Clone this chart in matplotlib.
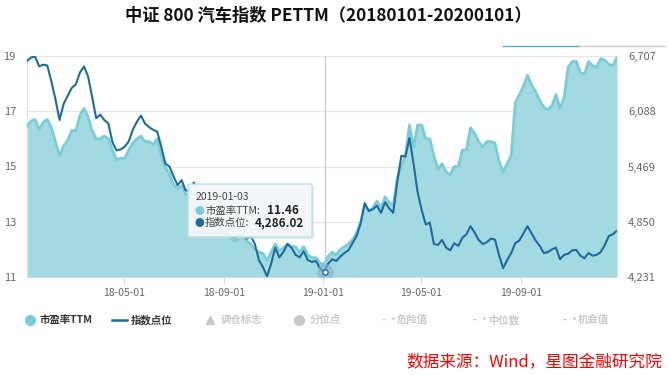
import numpy as np
import pandas as pd
import matplotlib
matplotlib.use('Agg')
import matplotlib.pyplot as plt
import matplotlib.dates as mdates
from matplotlib.lines import Line2D
from matplotlib.patches import FancyBboxPatch, Rectangle
from matplotlib.ticker import FuncFormatter

plt.rcParams['font.family'] = ['Noto Sans CJK SC', 'DejaVu Sans']

# data (every 5 calendar days from 2018-01-02)
start_date = '2018-01-02'
pe_ttm = [16.45, 16.65, 16.7, 16.35, 16.6, 16.7, 16.4, 15.9, 15.4, 15.75,
          15.95, 16.3, 16.3, 16.85, 17.1, 16.8, 16.3, 16.0, 16.0, 16.1,
          16.0, 15.6, 15.25, 15.3, 15.3, 15.6, 15.85, 16.0, 16.1, 15.9,
          15.9, 15.8, 16.0, 15.4, 14.95, 14.75, 14.35, 14.2, 14.3, 14.0,
          14.0, 14.05, 13.7, 13.3, 13.1, 12.9, 12.85, 12.7, 12.6, 12.5,
          12.4, 12.3, 12.4, 12.45, 12.3, 12.2, 12.0, 11.9, 11.85, 11.6,
          11.9, 12.2, 11.95, 12.05, 12.2, 12.1, 12.1, 11.9, 12.1, 11.8,
          11.7, 11.7, 11.5, 11.46, 11.75, 11.9, 11.8, 12.0, 12.1, 12.2,
          12.35, 12.6, 13.0, 13.6, 13.4, 13.5, 13.75, 13.5, 13.9, 13.7,
          13.6, 14.6, 15.0, 15.4, 16.5, 15.7, 16.5, 16.5, 16.0, 16.0,
          15.4, 14.9, 15.1, 14.8, 14.7, 15.0, 15.0, 15.6, 15.6, 16.4,
          16.2, 15.9, 15.7, 15.9, 15.9, 15.85, 15.2, 14.8, 15.1, 15.4,
          17.3, 17.6, 17.9, 18.3, 17.95, 17.7, 17.4, 17.15, 17.05, 17.2,
          17.6, 17.1, 17.5, 18.6, 18.8, 18.8, 18.4, 18.35, 18.8, 18.65,
          18.6, 18.9, 18.85, 18.7, 18.65, 18.95]
index_level = [6650, 6690, 6700, 6590, 6610, 6600, 6420, 6220, 5990, 6170,
               6260, 6350, 6390, 6520, 6590, 6480, 6250, 6010, 6050, 5990,
               5950, 5740, 5650, 5660, 5690, 5750, 5880, 5970, 6040, 5950,
               5910, 5880, 5860, 5690, 5500, 5470, 5360, 5260, 5315, 5200,
               5200, 5290, 5180, 5050, 4950, 4880, 4860, 4820, 4770, 4720,
               4690, 4670, 4690, 4700, 4660, 4690, 4600, 4420, 4340, 4240,
               4380, 4560, 4450, 4510, 4600, 4560, 4480, 4450, 4520, 4420,
               4400, 4410, 4330, 4286, 4380, 4430, 4410, 4460, 4500, 4530,
               4610, 4690, 4830, 5060, 4970, 4990, 5030, 4950, 5070, 5000,
               4950, 5300, 5590, 5580, 5790, 5500, 5180, 4980, 4820, 4840,
               4600, 4590, 4646, 4560, 4530, 4610, 4580, 4670, 4710, 4800,
               4730, 4646, 4600, 4620, 4660, 4650, 4480, 4330, 4420, 4500,
               4610, 4640, 4720, 4800, 4720, 4640, 4580, 4500, 4510, 4540,
               4560, 4430, 4480, 4490, 4530, 4534, 4470, 4440, 4500, 4470,
               4480, 4510, 4590, 4690, 4710, 4750]
dates = pd.date_range(start_date, periods=len(pe_ttm), freq='5D')

pe_ticks = [11, 13, 15, 17, 19]
index_ticks = [4231, 4850, 5469, 6088, 6707]
x_ticks = ['2018-05-01', '2018-09-01', '2019-01-01', '2019-05-01', '2019-09-01']

tip_date = '2019-01-03'
tip_pe = 11.46
tip_index = 4286.02

W, H = 668, 375
fill_c = '#a3d9e0'
pe_c = '#7acdd6'
idx_c = '#1f6b9c'
grey_txt = '#666666'


def px(x, y):
    return x / W, 1 - y / H


fig = plt.figure(figsize=(W / 100, H / 100), dpi=100)
left, right, top, bottom = 27, 617, 56, 277
ax = fig.add_axes((left / W, 1 - bottom / H, (right - left) / W, (bottom - top) / H))
ax2 = ax.twinx()

ax.fill_between(dates, pe_ttm, 11, color=fill_c, lw=0, zorder=2)
ax.plot(dates, pe_ttm, color=pe_c, lw=2, zorder=3)
ax2.plot(dates, index_level, color=idx_c, lw=1.5, zorder=4)

ax.set_ylim(11, 19)
ax2.set_ylim(index_ticks[0], index_ticks[-1])
ax.set_xlim(dates[0], dates[-1])
ax.set_yticks(pe_ticks)
ax2.set_yticks(index_ticks)
ax2.yaxis.set_major_formatter(FuncFormatter(lambda v, p: f'{int(round(v)):,}'))

ax.set_xticks(pd.to_datetime(x_ticks))
ax.xaxis.set_major_formatter(mdates.DateFormatter('%y-%m-%d'))

ax.grid(axis='y', color='#e6e6e6', lw=1, zorder=0)
ax.set_axisbelow(True)
for a in (ax, ax2):
    for s in a.spines.values():
        s.set_visible(False)
ax.spines['left'].set_visible(True)
ax.spines['left'].set_color('#dde3ea')
ax.spines['bottom'].set_visible(True)
ax.spines['bottom'].set_color('#d0dbe8')

ax.tick_params(axis='y', length=0, labelsize=8, labelcolor=grey_txt, pad=8)
ax2.tick_params(axis='y', length=0, labelsize=8, labelcolor=grey_txt, pad=8)
ax.tick_params(axis='x', length=5, color='#d0dbe8', labelsize=7.5,
               labelcolor=grey_txt, pad=3)

# crosshair and hovered point
tip_x = pd.Timestamp(tip_date)
ax.axvline(tip_x, color='#cccccc', lw=1, zorder=5)
ax2.scatter([tip_x], [tip_index], s=150, color='#7fb3d3', alpha=0.6, lw=0, zorder=6)
ax2.scatter([tip_x], [tip_index], s=14, color='white', edgecolor=idx_c, lw=1, zorder=7)

# tooltip
x0, y0 = px(188, 237)
x1, y1 = px(312, 184)
fig.add_artist(Rectangle((x0 + 0.003, y0 - 0.006), x1 - x0, y1 - y0,
                         transform=fig.transFigure, color='#cfd8dc', alpha=0.5, lw=0))
fig.add_artist(FancyBboxPatch((x0, y0), x1 - x0, y1 - y0, boxstyle='round,pad=0,rounding_size=0.004',
                              transform=fig.transFigure, facecolor='#f4f8f9', alpha=0.92,
                              edgecolor='#b8dfe4', lw=1))
fig.text(*px(196, 197), tip_date, fontsize=7.5, color='#444444', va='center')
fig.text(*px(199, 211), '●', fontsize=7, color=pe_c, va='center', ha='center')
fig.text(*px(205, 211), '市盈率TTM:', fontsize=7.5, color='#444444', va='center')
fig.text(*px(267, 211), f'{tip_pe:.2f}', fontsize=8.5, color='#222222', va='center', fontweight='bold')
fig.text(*px(199, 223), '●', fontsize=7, color=idx_c, va='center', ha='center')
fig.text(*px(205, 223), '指数点位:', fontsize=7.5, color='#444444', va='center')
fig.text(*px(255, 223), f'{tip_index:,.2f}', fontsize=8.5, color='#222222', va='center', fontweight='bold')

# slider-like line at top right
fig.add_artist(Line2D([px(503, 0)[0], px(579, 0)[0]], [px(0, 46)[1]] * 2, color='#4fb3c8', lw=1))
fig.add_artist(Line2D([px(579, 0)[0], px(665, 0)[0]], [px(0, 46)[1]] * 2, color='#cccccc', lw=1))

# title
fig.text(*px(328, 16), '中证 800 汽车指数 PETTM（20180101-20200101）', ha='center', va='center',
         fontsize=12.4, fontweight='bold', color='#111111')

# legend
ly = px(0, 320)[1]
fig.add_artist(Line2D([px(30, 0)[0]], [ly], marker='o', ms=7, color=pe_c, lw=0))
fig.text(px(40, 0)[0], ly, '市盈率TTM', fontsize=7.5, fontweight='bold', color='#333333', va='center')
fig.add_artist(Line2D([px(112, 0)[0], px(127, 0)[0]], [ly, ly], color=idx_c, lw=1.8))
fig.text(px(131, 0)[0], ly, '指数点位', fontsize=7.5, fontweight='bold', color='#333333', va='center')
off_c = '#c8c8c8'
fig.add_artist(Line2D([px(210, 0)[0]], [ly], marker='^', ms=6, color=off_c, lw=0))
fig.text(px(221, 0)[0], ly, '调仓标志', fontsize=7.5, fontweight='bold', color=off_c, va='center')
fig.add_artist(Line2D([px(299, 0)[0]], [ly], marker='o', ms=7, color=off_c, lw=0))
fig.text(px(310, 0)[0], ly, '分位点', fontsize=7.5, fontweight='bold', color=off_c, va='center')
for xs, label in zip([382, 473, 563], ['危险值', '中位数', '机会值']):
    fig.text(px(xs, 0)[0], ly, '- ·', fontsize=7.5, fontweight='bold', color=off_c, va='center')
    fig.text(px(xs + 15, 0)[0], ly, label, fontsize=7.5, fontweight='bold', color=off_c, va='center')

# source
fig.text(*px(662, 362), '数据来源：Wind，星图金融研究院', ha='right', va='center',
         fontsize=12, color='red', style='italic')

fig.savefig('out.png', dpi=100)
